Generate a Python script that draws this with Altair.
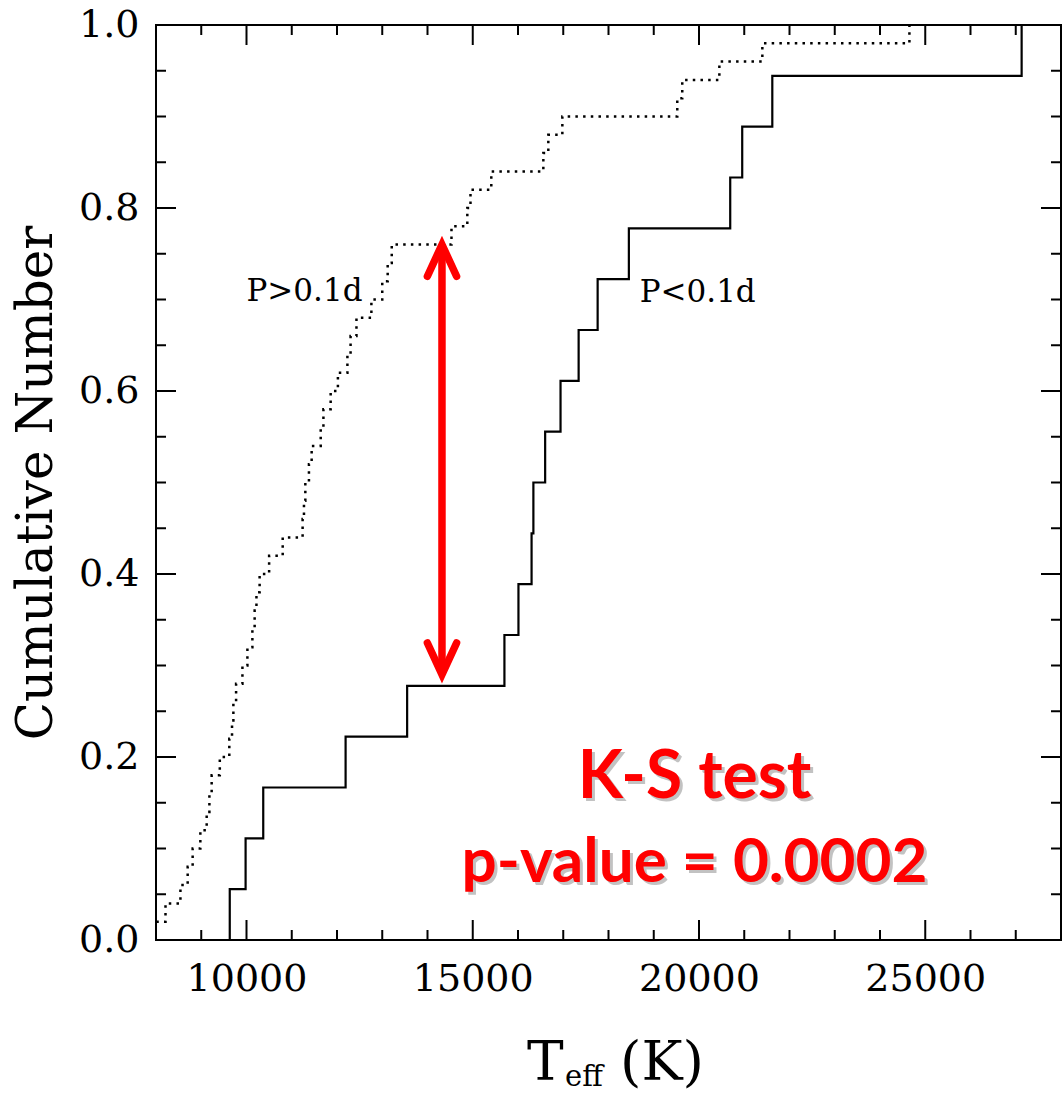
import altair as alt
import pandas as pd

# Teff (K) at which each star enters the cumulative distribution
teff_short_period = [9630, 9980, 10370, 12190, 13550, 15700, 16010, 16300, 16340,
                     16600, 16940, 17340, 17760, 18450, 20690, 20955, 21620, 27130]
teff_long_period = [7900, 8210, 8540, 8700, 8810, 8980, 9120, 9180, 9230, 9410,
                    9620, 9680, 9710, 9770, 9910, 10020, 10130, 10180, 10220, 10290,
                    10500, 10800, 11240, 11270, 11300, 11380, 11440, 11640, 11700, 11860,
                    12020, 12230, 12300, 12430, 12760, 13000, 13120, 13210, 14530, 14880,
                    14950, 15410, 16560, 16670, 16980, 19520, 19630, 20450, 21400, 24650]

# Axis ticks
x_major = [10000, 15000, 20000, 25000]
x_minor = [9000, 11000, 12000, 13000, 14000, 16000, 17000, 18000, 19000,
           21000, 22000, 23000, 24000, 26000, 27000]
y_major = [0.0, 0.2, 0.4, 0.6, 0.8, 1.0]
y_minor = [0.05, 0.1, 0.15, 0.25, 0.3, 0.35, 0.45, 0.5, 0.55, 0.65, 0.7, 0.75,
           0.85, 0.9, 0.95]

# Curve labels
curve_labels = ["P>0.1d", "P<0.1d"]
curve_label_teff = [10000, 18690]
curve_label_frac = [0.698, 0.697]

# K-S annotation
ks_title = ["K-S test"]
ks_pvalue = ["p-value = 0.0002"]
ks_teff = [19900]
ks_title_frac = [0.155]
ks_pvalue_frac = [0.063]
ks_arrow_teff = 14320
ks_arrow_top = 0.76
ks_arrow_bottom = 0.29

W, H = 905, 915
SERIF = "DejaVu Serif"


def ecdf_frame(values):
    n = len(values)
    rows = [{"teff": values[0], "frac": 0.0, "order": 0}]
    for i, t in enumerate(values):
        rows.append({"teff": t, "frac": (i + 1) / n, "order": i + 1})
    return pd.DataFrame(rows)


x_scale = alt.Scale(domain=[8000, 28000], nice=False, zero=False)
y_scale = alt.Scale(domain=[0, 1], nice=False, zero=False)

x_axis = alt.Axis(values=x_major, format="d", title=None, ticks=False, domain=False,
                  grid=False, labelFont=SERIF, labelFontSize=38, labelColor="black",
                  labelPadding=20, labelOverlap=False, labelFlush=False)
y_axis = alt.Axis(values=y_major, format=".1f", title="Cumulative Number",
                  titleFont=SERIF, titleFontSize=50, titleFontWeight="normal",
                  titleColor="black", titleAngle=-90, titleX=-105, titleY=H / 2,
                  titleAlign="center", titleBaseline="alphabetic",
                  ticks=False, domain=False, grid=False, labelFont=SERIF,
                  labelFontSize=38, labelColor="black", labelPadding=17,
                  labelOverlap=False, labelFlush=False)


def X(field):
    return alt.X(field, type="quantitative", scale=x_scale, axis=x_axis)


def Y(field):
    return alt.Y(field, type="quantitative", scale=y_scale, axis=y_axis)


short_df = ecdf_frame(teff_short_period)
long_df = ecdf_frame(teff_long_period)

solid = alt.Chart(short_df).mark_line(
    interpolate="step-after", color="black", strokeWidth=2.2, clip=True
).encode(x=X("teff"), y=Y("frac"), order="order:Q")

dotted = alt.Chart(long_df).mark_line(
    interpolate="step-after", color="black", strokeWidth=2.5,
    strokeDash=[2.5, 5.2], clip=True
).encode(x=X("teff"), y=Y("frac"), order="order:Q")


def x_tick_layer(values, length, top):
    df = pd.DataFrame({"teff": values})
    y0, y1 = (0, length) if top else (H, H - length)
    return alt.Chart(df).mark_rule(color="black", strokeWidth=2).encode(
        x=X("teff"), y=alt.value(y0), y2=alt.value(y1),
    )


def y_tick_layer(values, length, right):
    df = pd.DataFrame({"frac": values})
    x0, x1 = (W, W - length) if right else (0, length)
    return alt.Chart(df).mark_rule(color="black", strokeWidth=2).encode(
        y=Y("frac"), x=alt.value(x0), x2=alt.value(x1),
    )


ticks = []
for side in (False, True):
    ticks.append(x_tick_layer(x_minor, 10, side))
    ticks.append(x_tick_layer(x_major, 20, side))
    ticks.append(y_tick_layer(y_minor, 10, side))
    ticks.append(y_tick_layer(y_major, 20, side))

labels = alt.Chart(pd.DataFrame({
    "teff": curve_label_teff, "frac": curve_label_frac, "text": curve_labels
})).mark_text(
    align="left", baseline="alphabetic", font=SERIF, fontSize=31, color="black"
).encode(x=X("teff"), y=Y("frac"), text="text:N")

arrow_df = pd.DataFrame({"teff": [ks_arrow_teff], "top": [ks_arrow_top],
                         "bottom": [ks_arrow_bottom]})
shaft = alt.Chart(arrow_df).mark_rule(color="red", strokeWidth=7.5).encode(
    x=X("teff"), y=Y("top"), y2="bottom:Q",
)
head_up = alt.Chart(arrow_df).mark_point(
    shape="M -0.46 1 L 0 0 L 0.46 1", size=4020, filled=False, color="red",
    strokeWidth=7.5, opacity=1, strokeCap="round", strokeJoin="miter"
).encode(x=X("teff"), y=Y("top"))
head_down = alt.Chart(arrow_df).mark_point(
    shape="M -0.46 -1 L 0 0 L 0.46 -1", size=4020, filled=False, color="red",
    strokeWidth=7.5, opacity=1, strokeCap="round", strokeJoin="miter"
).encode(x=X("teff"), y=Y("bottom"))


def ks_layers(text, frac, size):
    df = pd.DataFrame({"teff": ks_teff, "frac": frac, "text": text})
    style = dict(align="center", baseline="alphabetic", font="Lato",
                 fontWeight="bold", fontSize=size)
    shadow = alt.Chart(df).mark_text(
        color="#7a7a7a", opacity=0.45, dx=3, dy=3, **style
    ).encode(x=X("teff"), y=Y("frac"), text="text:N")
    front = alt.Chart(df).mark_text(color="#ff0000", **style).encode(
        x=X("teff"), y=Y("frac"), text="text:N")
    return [shadow, front]


ks = ks_layers(ks_title, ks_title_frac, 66) + ks_layers(ks_pvalue, ks_pvalue_frac, 62)


def title_part(text, px, py, size):
    return alt.Chart(pd.DataFrame({"text": [text]})).mark_text(
        align="left", baseline="alphabetic", font=SERIF, fontSize=size, color="black"
    ).encode(x=alt.value(px), y=alt.value(py), text="text:N")


x_title = [
    title_part("T", 371, 1055, 55),
    title_part("eff", 409, 1061, 29),
    title_part("(K)", 464, 1055, 55),
]

chart = alt.layer(
    solid, dotted, *ticks, labels, shaft, head_up, head_down, *ks, *x_title
).properties(
    width=W, height=H,
    padding={"left": 156, "top": 25, "right": 1, "bottom": 154},
    autosize=alt.AutoSizeParams(type="none"),
    background="white",
).configure_view(stroke="black", strokeWidth=2)

chart.save("out.html", embed_options={"renderer": "svg", "actions": False})
